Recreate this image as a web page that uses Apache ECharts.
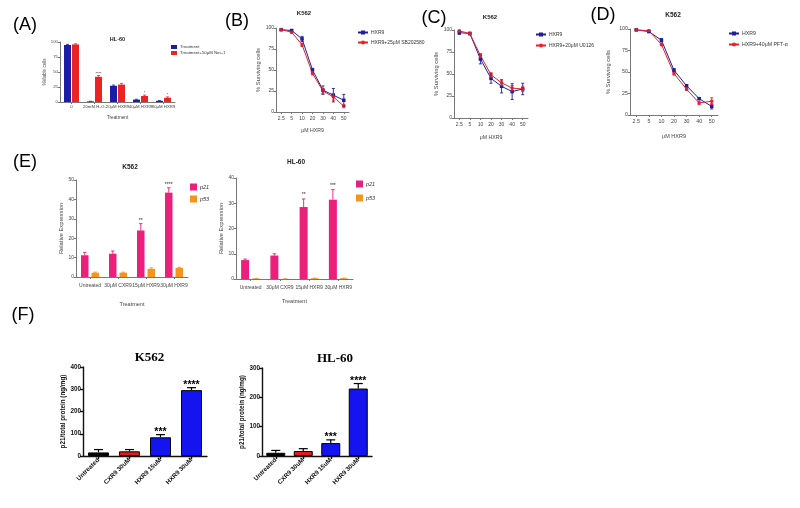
<!DOCTYPE html>
<html><head><meta charset="utf-8">
<script src="https://cdn.jsdelivr.net/npm/echarts@6/dist/echarts.min.js"></script>
<style>html,body{margin:0;background:#fff}#c{width:800px;height:508px}</style>
</head><body><div id="c"></div>
<script>
// ---------- DATA ----------
const catsA = ["0", "20mM H₂O₂", "20μM HXR9", "40μM HXR9", "80μM HXR9"];
const treatA = [95, 1, 27, 4, 2];
const treatAErr = [1, 0.3, 1.2, 0.6, 0.4];
const necA = [96, 42, 29, 10, 7];
const necAErr = [1, 2, 2, 1.5, 1.5];
const starsA = ["", "****", "", "*", "*"];

const doses = ["2.5", "5", "10", "20", "30", "40", "50"];
const hxr9B = [98, 97, 87, 50, 26, 20, 14];
const hxr9BErr = [1, 1, 3, 2, 5, 8, 7];
const sbB = [98, 95, 80, 46, 25, 18, 7];
const sbBErr = [1, 1, 2, 2, 3, 4, 2];

const hxr9C = [97, 96, 67, 45, 36, 30, 33];
const hxr9CErr = [2, 1.5, 5.5, 5.5, 7.5, 9, 6.5];
const u0126C = [99, 96, 71, 49, 40, 34, 33];
const u0126CErr = [1, 1, 2, 2.5, 3, 3, 3];

const hxr9D = [99, 97, 87, 52, 34, 19, 10];
const hxr9DErr = [1, 1, 2, 2, 1.5, 1, 3];
const pftD = [99, 98, 82, 48, 30, 14, 16];
const pftDErr = [1, 1, 1.5, 1.5, 1.5, 2, 4];

const catsE = ["Untreated", "30μM CXR9", "15μM HXR9", "30μM HXR9"];
const p21K = [11.2, 12, 24, 43.5];
const p21KErr = [1.5, 1.4, 3.5, 2.5];
const p53K = [2.2, 2.2, 4.2, 4.7];
const p53KErr = [0.3, 0.3, 0.5, 0.3];
const starsEK = ["", "", "**", "****"];

const p21H = [7.5, 9.3, 28.5, 31.4];
const p21HErr = [0.4, 0.7, 3.2, 4];
const p53H = [0.2, 0.05, 0.3, 0.3];
const p53HErr = [0.05, 0.05, 0.05, 0.05];
const starsEH = ["", "", "**", "***"];

const catsF = ["Untreated", "CXR9 30uM", "HXR9 15uM", "HXR9 30uM"];
const protK = [16, 21, 84, 296];
const protKErr = [13, 8, 12, 11];
const starsFK = ["", "", "***", "****"];
const protH = [11, 17, 44, 230];
const protHErr = [8, 8, 11, 17];
const starsFH = ["", "", "***", "****"];

// ---------- LAYOUT / STYLE ----------
const SANS = "Liberation Sans";
const SERIF = "Liberation Serif";
const grids = [
  {left: 60, top: 42, width: 115, height: 60},
  {left: 276, top: 28, width: 73, height: 84},
  {left: 454, top: 30, width: 74, height: 88},
  {left: 630, top: 29, width: 88, height: 86},
  {left: 76, top: 180, width: 112, height: 97},
  {left: 236, top: 178, width: 117, height: 101},
  {left: 83, top: 367, width: 124, height: 89},
  {left: 262, top: 368, width: 110, height: 88}
];

function xAx(gi, data, o) {
  return {
    type: 'category', gridIndex: gi, data: data, boundaryGap: true,
    axisLine: {lineStyle: {color: o.c || '#777', width: o.lw || 1}},
    axisTick: {show: o.tick !== false, alignWithLabel: true, length: o.tl || 2, lineStyle: {color: o.c || '#777', width: o.lw || 1}},
    axisLabel: {fontSize: o.fs, color: o.lc || '#444', margin: o.m || 3, interval: 0, rotate: o.rot || 0,
      fontFamily: SANS, fontWeight: o.fw || 'normal', hideOverlap: false},
    name: o.name || '', nameLocation: 'middle', nameGap: o.ng || 10,
    nameTextStyle: {fontSize: o.nfs || o.fs, color: '#444', fontFamily: SANS}
  };
}
function yAx(gi, max, interval, o) {
  return {
    type: 'value', gridIndex: gi, min: 0, max: max, interval: interval,
    splitLine: {show: false},
    axisLine: {show: true, lineStyle: {color: o.c || '#777', width: o.lw || 1}},
    axisTick: {show: true, length: o.tl || 2, lineStyle: {color: o.c || '#777', width: o.lw || 1}},
    axisLabel: {fontSize: o.fs, color: o.lc || '#444', margin: o.m || 2, fontFamily: SANS, fontWeight: o.fw || 'normal'},
    name: o.name, nameLocation: 'middle', nameGap: o.ng, nameRotate: 90,
    nameTextStyle: {fontSize: o.nfs || o.fs, color: o.nc || '#444', fontFamily: SANS, fontWeight: o.nfw || 'normal'}
  };
}

function errBars(ai, vals, errs, offset, both, color, capW, lw) {
  return {
    type: 'custom', xAxisIndex: ai, yAxisIndex: ai, silent: true, z: 4,
    data: vals.map((v, i) => [i, v, errs[i]]),
    encode: {x: 0, y: 1},
    renderItem: function (params, api) {
      const i = api.value(0), v = api.value(1), e = api.value(2);
      const pb = api.coord([i, both ? v - e : v]);
      const pt = api.coord([i, v + e]);
      const x = pb[0] + offset;
      const st = {stroke: color, lineWidth: lw};
      const ch = [
        {type: 'line', shape: {x1: x, y1: pb[1], x2: x, y2: pt[1]}, style: st},
        {type: 'line', shape: {x1: x - capW / 2, y1: pt[1], x2: x + capW / 2, y2: pt[1]}, style: st}
      ];
      if (both) ch.push({type: 'line', shape: {x1: x - capW / 2, y1: pb[1], x2: x + capW / 2, y2: pb[1]}, style: st});
      return {type: 'group', children: ch};
    }
  };
}

function stars(ai, vals, errs, labels, offset, dy, font, color) {
  return {
    type: 'custom', xAxisIndex: ai, yAxisIndex: ai, silent: true, z: 5,
    data: vals.map((v, i) => [i, v, errs[i]]),
    encode: {x: 0, y: 1},
    renderItem: function (params, api) {
      const i = api.value(0), v = api.value(1), e = api.value(2);
      const p = api.coord([i, v + e]);
      return {type: 'text', x: p[0] + offset, y: p[1] - dy,
        style: {text: labels[params.dataIndex], font: font, fill: color,
          align: 'center', verticalAlign: 'middle', textAlign: 'center', textVerticalAlign: 'middle'}};
    }
  };
}

function lineS(ai, name, data, color, symbol) {
  return {type: 'line', name: name, xAxisIndex: ai, yAxisIndex: ai, data: data, symbol: symbol, symbolSize: 3.5,
    color: color, itemStyle: {color: color}, lineStyle: {color: color, width: 1}, z: 3};
}

const BLUE = '#1f1f9e', RED = '#e8212b';
const PINK = '#ec1f7a', ORANGE = '#f7941d';
const ABLUE = '#1c1ca8', ARED = '#ee2222';
const FBLUE = '#1414f0', FRED = '#e01b1b';

const xAxis = [
  xAx(0, catsA, {fs: 4.3, name: 'Treatment', ng: 13, nfs: 4.8, m: 3}),
  xAx(1, doses, {fs: 5, name: 'μM HXR9', ng: 16, nfs: 5.2, m: 4}),
  xAx(2, doses, {fs: 5, name: 'μM HXR9', ng: 17, nfs: 5.2, m: 4}),
  xAx(3, doses, {fs: 5.3, name: 'μM HXR9', ng: 18, nfs: 5.5, m: 4}),
  xAx(4, catsE, {fs: 5, name: 'Treatment', ng: 24, nfs: 5.5, m: 6}),
  xAx(5, catsE, {fs: 5, name: 'Treatment', ng: 19, nfs: 5.5, m: 6}),
  xAx(6, catsF, {fs: 6.3, fw: 'bold', c: '#111', lc: '#111', lw: 1.4, tl: 3, rot: 45, m: 3}),
  xAx(7, catsF, {fs: 6.3, fw: 'bold', c: '#111', lc: '#111', lw: 1.4, tl: 3, rot: 45, m: 3})
];
const yAxis = [
  yAx(0, 100, 25, {fs: 4.3, name: '%Viable cells', ng: 10, nfs: 4.6}),
  yAx(1, 100, 25, {fs: 5, name: '% Surviving cells', ng: 14, nfs: 5.8}),
  yAx(2, 100, 25, {fs: 5, name: '% Surviving cells', ng: 11, nfs: 5.8}),
  yAx(3, 100, 25, {fs: 5.3, name: '% Surviving cells', ng: 19, nfs: 5.8}),
  yAx(4, 50, 10, {fs: 5, name: 'Relative Expression', ng: 9, nfs: 5.8}),
  yAx(5, 40, 10, {fs: 5, name: 'Relative Expression', ng: 8, nfs: 5.8}),
  yAx(6, 400, 100, {fs: 6.3, fw: 'bold', c: '#111', lc: '#111', lw: 1.4, tl: 3, name: 'p21/total protein (ng/mg)', ng: 16, nfs: 6.3, nfw: 'bold', nc: '#111'}),
  yAx(7, 300, 100, {fs: 6.3, fw: 'bold', c: '#111', lc: '#111', lw: 1.4, tl: 3, name: 'p21/total protein (ng/mg)', ng: 16, nfs: 6.3, nfw: 'bold', nc: '#111'})
];

const series = [];
// A
series.push({type: 'bar', name: 'Treatment', xAxisIndex: 0, yAxisIndex: 0, data: treatA, barWidth: 7, barGap: '15%', itemStyle: {color: ABLUE}});
series.push({type: 'bar', name: 'Treatment+50μM Nec-1', xAxisIndex: 0, yAxisIndex: 0, data: necA, barWidth: 7, barGap: '15%', itemStyle: {color: ARED}});
series.push(errBars(0, treatA, treatAErr, -4.03, false, ABLUE, 3, 0.8));
series.push(errBars(0, necA, necAErr, 4.03, false, ARED, 3, 0.8));
series.push(stars(0, necA, necAErr, starsA, 4.03, 2, '4px ' + SANS, '#333'));
// B
series.push(lineS(1, 'HXR9', hxr9B, BLUE, 'rect'));
series.push(lineS(1, 'HXR9+25μM SB202580', sbB, RED, 'circle'));
series.push(errBars(1, hxr9B, hxr9BErr, 0, true, BLUE, 3, 0.9));
series.push(errBars(1, sbB, sbBErr, 0, true, RED, 3, 0.9));
// C
series.push(lineS(2, 'HXR9', hxr9C, BLUE, 'rect'));
series.push(lineS(2, 'HXR9+20μM U0126', u0126C, RED, 'circle'));
series.push(errBars(2, hxr9C, hxr9CErr, 0, true, BLUE, 3, 0.9));
series.push(errBars(2, u0126C, u0126CErr, 0, true, RED, 3, 0.9));
// D
series.push(lineS(3, 'HXR9', hxr9D, BLUE, 'rect'));
series.push(lineS(3, 'HXR9+40μM PFT-α', pftD, RED, 'circle'));
series.push(errBars(3, hxr9D, hxr9DErr, 0, true, BLUE, 3, 0.9));
series.push(errBars(3, pftD, pftDErr, 0, true, RED, 3, 0.9));
// E left
series.push({type: 'bar', name: 'p21', xAxisIndex: 4, yAxisIndex: 4, data: p21K, barWidth: 7.5, barGap: '40%', itemStyle: {color: PINK}});
series.push({type: 'bar', name: 'p53', xAxisIndex: 4, yAxisIndex: 4, data: p53K, barWidth: 7.5, barGap: '40%', itemStyle: {color: ORANGE}});
series.push(errBars(4, p21K, p21KErr, -5.25, false, PINK, 3.5, 0.9));
series.push(errBars(4, p53K, p53KErr, 5.25, false, ORANGE, 3.5, 0.9));
series.push(stars(4, p21K, p21KErr, starsEK, -5.25, 3, '5px ' + SANS, '#222'));
// E right
series.push({type: 'bar', name: 'p21', xAxisIndex: 5, yAxisIndex: 5, data: p21H, barWidth: 8, barGap: '37.5%', itemStyle: {color: PINK}});
series.push({type: 'bar', name: 'p53', xAxisIndex: 5, yAxisIndex: 5, data: p53H, barWidth: 8, barGap: '37.5%', itemStyle: {color: ORANGE}});
series.push(errBars(5, p21H, p21HErr, -5.5, false, PINK, 3.5, 0.9));
series.push(errBars(5, p53H, p53HErr, 5.5, false, ORANGE, 3.5, 0.9));
series.push(stars(5, p21H, p21HErr, starsEH, -5.5, 4, '5px ' + SANS, '#222'));
// F
const fColors = ['#000000', FRED, FBLUE, FBLUE];
series.push({type: 'bar', name: 'K562 p21 protein', xAxisIndex: 6, yAxisIndex: 6, barWidth: 21,
  data: protK.map((v, i) => ({value: v, itemStyle: {color: fColors[i], borderColor: '#000', borderWidth: 1}}))});
series.push(errBars(6, protK, protKErr, 0, false, '#000', 9, 1.2));
series.push(stars(6, protK, protKErr, starsFK, 0, 3, 'bold 10.5px ' + SANS, '#000'));
series.push({type: 'bar', name: 'HL-60 p21 protein', xAxisIndex: 7, yAxisIndex: 7, barWidth: 19,
  data: protH.map((v, i) => ({value: v, itemStyle: {color: fColors[i], borderColor: '#000', borderWidth: 1}}))});
series.push(errBars(7, protH, protHErr, 0, false, '#000', 9, 1.2));
series.push(stars(7, protH, protHErr, starsFH, 0, 2.5, 'bold 10.5px ' + SANS, '#000'));

function leg(left, top, names, o) {
  return {left: left, top: top, orient: 'vertical', data: names, itemWidth: o.iw, itemHeight: o.ih, itemGap: o.gap,
    padding: 0, icon: o.icon, selectedMode: false,
    textStyle: {fontSize: o.fs, color: '#333', fontFamily: SANS, fontStyle: o.it ? 'italic' : 'normal', padding: [0, 0, 0, -2]}};
}
const legend = [
  leg(171, 45, [{name: 'Treatment', icon: 'rect'}, {name: 'Treatment+50μM Nec-1', icon: 'rect'}], {iw: 6, ih: 4, gap: 2, fs: 4.3}),
  leg(357, 30, ['HXR9', 'HXR9+25μM SB202580'], {iw: 10, ih: 5, gap: 5, fs: 5}),
  leg(535, 32, ['HXR9', 'HXR9+20μM U0126'], {iw: 10, ih: 5, gap: 6, fs: 5}),
  leg(728, 31, ['HXR9', 'HXR9+40μM PFT-α'], {iw: 10, ih: 5, gap: 6, fs: 5.2}),
  leg(190, 183.5, [{name: 'p21', icon: 'rect'}, {name: 'p53', icon: 'rect'}], {iw: 7, ih: 7, gap: 5, fs: 5.5, it: true}),
  leg(356, 180.5, [{name: 'p21', icon: 'rect'}, {name: 'p53', icon: 'rect'}], {iw: 7, ih: 7, gap: 7, fs: 5.5, it: true})
];

function txt(x, y, s, font, color) {
  return {type: 'text', x: x, y: y, silent: true,
    style: {text: s, font: font, fill: color || '#000', align: 'center', verticalAlign: 'middle', textAlign: 'center', textVerticalAlign: 'middle'}};
}
const graphic = [
  txt(25, 25, '(A)', '18px ' + SANS),
  txt(237, 21, '(B)', '18px ' + SANS),
  txt(434, 18, '(C)', '18px ' + SANS),
  txt(603, 15, '(D)', '18px ' + SANS),
  txt(25, 162, '(E)', '18px ' + SANS),
  txt(23, 315, '(F)', '18px ' + SANS),
  txt(117.5, 39, 'HL-60', 'bold 5.5px ' + SANS, '#222'),
  txt(304, 13, 'K562', 'bold 6px ' + SANS, '#222'),
  txt(490, 17, 'K562', 'bold 6px ' + SANS, '#222'),
  txt(673, 15, 'K562', 'bold 6.5px ' + SANS, '#222'),
  txt(130, 167, 'K562', 'bold 6.5px ' + SANS, '#222'),
  txt(296, 162, 'HL-60', 'bold 6.5px ' + SANS, '#222'),
  txt(149.5, 358, 'K562', 'bold 13px ' + SERIF, '#000'),
  txt(335, 359, 'HL-60', 'bold 13px ' + SERIF, '#000')
];

const chart = echarts.init(document.getElementById('c'), null, {renderer: 'canvas'});
chart.setOption({
  backgroundColor: '#fff',
  animation: false,
  grid: grids,
  xAxis: xAxis,
  yAxis: yAxis,
  legend: legend,
  series: series,
  graphic: graphic
});
</script></body></html>
